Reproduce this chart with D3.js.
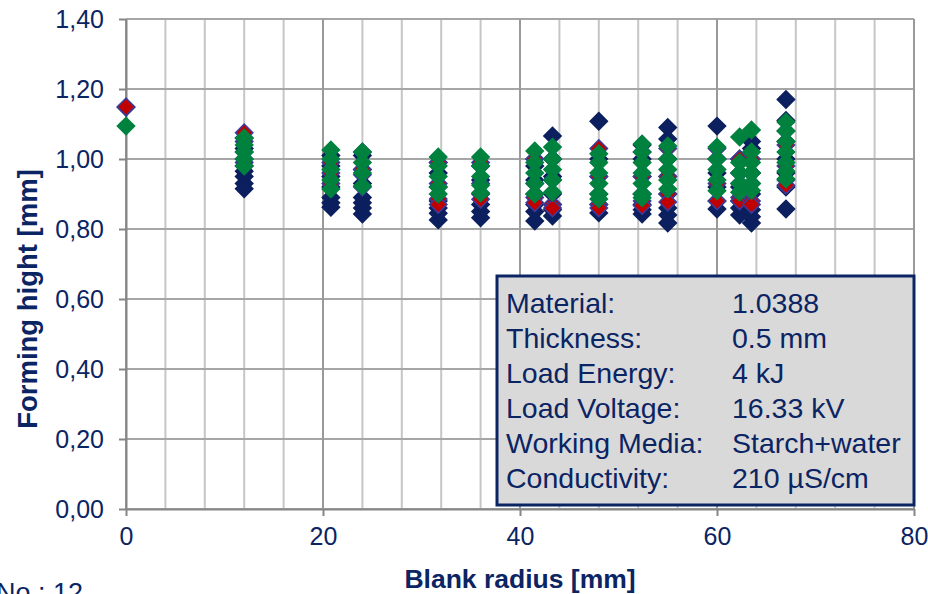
<!DOCTYPE html>
<html>
<head>
<meta charset="utf-8">
<script src="https://cdn.jsdelivr.net/npm/d3@7"></script>
<style>
  body { margin: 0; background: #fff; }
  svg { display: block; font-family: 'Liberation Sans', Arial, sans-serif; }
  .tick text { fill: #0b2463; }
</style>
</head>
<body>
<div id="chart"></div>
<script>
// values: [blank radius, forming hight]
const navyPoints = [
  [0, 1.148],
  [12, 0.915], [12, 0.93], [12, 0.95], [12, 0.965], [12, 0.98], [12, 1.0], [12, 1.03], [12, 1.06],
  [20.8, 0.862], [20.8, 0.875], [20.8, 0.89], [20.8, 0.92], [20.8, 0.95], [20.8, 0.98], [20.8, 1.01],
  [24, 0.843], [24, 0.86], [24, 0.875], [24, 0.89], [24, 0.93], [24, 0.97], [24, 1.01],
  [31.7, 0.826], [31.7, 0.845], [31.7, 0.86], [31.7, 0.88], [31.7, 0.92], [31.7, 0.96], [31.7, 0.99],
  [36, 0.832], [36, 0.85], [36, 0.87], [36, 0.9], [36, 0.94], [36, 0.98],
  [41.5, 0.823], [41.5, 0.85], [41.5, 0.87], [41.5, 0.9], [41.5, 0.94], [41.5, 0.98], [41.5, 1.0],
  [43.3, 0.837], [43.3, 0.855], [43.3, 0.87], [43.3, 0.9], [43.3, 0.95], [43.3, 1.0], [43.3, 1.066],
  [48, 0.846], [48, 0.87], [48, 0.9], [48, 0.95], [48, 1.0], [48, 1.108],
  [52.4, 0.843], [52.4, 0.855], [52.4, 0.87], [52.4, 0.9], [52.4, 0.95], [52.4, 1.0], [52.4, 1.04],
  [55, 0.817], [55, 0.84], [55, 0.86], [55, 0.9], [55, 0.95], [55, 1.0], [55, 1.057], [55, 1.09],
  [60, 0.857], [60, 0.88], [60, 0.92], [60, 0.96], [60, 1.0], [60, 1.094],
  [62.3, 0.84], [62.3, 0.86], [62.3, 0.88], [62.3, 0.92], [62.3, 0.96], [62.3, 1.0],
  [63.5, 0.817], [63.5, 0.835], [63.5, 0.855], [63.5, 0.9], [63.5, 0.96], [63.5, 1.03], [63.5, 1.05],
  [67, 0.857], [67, 0.92], [67, 0.96], [67, 1.0], [67, 1.05], [67, 1.11], [67, 1.17]
];

const redPoints = [
  [0, 1.149],
  [12, 1.075], [12, 1.05], [12, 1.02], [12, 0.99],
  [20.8, 0.99], [20.8, 0.96], [20.8, 0.93],
  [24, 1.02], [24, 0.97], [24, 0.955], [24, 0.92],
  [31.7, 0.99], [31.7, 0.93], [31.7, 0.886], [31.7, 0.87],
  [36, 0.99], [36, 0.93], [36, 0.885],
  [41.5, 1.0], [41.5, 0.93], [41.5, 0.89], [41.5, 0.875],
  [43.3, 1.0], [43.3, 0.94], [43.3, 0.87], [43.3, 0.86],
  [48, 1.03], [48, 0.95], [48, 0.87], [48, 0.86],
  [52.4, 1.02], [52.4, 0.95], [52.4, 0.9], [52.4, 0.88], [52.4, 0.867],
  [55, 1.03], [55, 0.95], [55, 0.9], [55, 0.877],
  [60, 1.03], [60, 1.0], [60, 0.93], [60, 0.88],
  [62.3, 1.0], [62.3, 0.93], [62.3, 0.89], [62.3, 0.88],
  [63.5, 1.0], [63.5, 0.93], [63.5, 0.88], [63.5, 0.87],
  [67, 1.08], [67, 1.04], [67, 0.98], [67, 0.94], [67, 0.925]
];

const greenPoints = [
  [0, 1.094],
  [12, 1.06], [12, 1.04], [12, 1.02], [12, 1.0], [12, 0.98],
  [20.8, 1.026], [20.8, 1.0], [20.8, 0.97], [20.8, 0.94], [20.8, 0.914],
  [24, 1.02], [24, 0.99], [24, 0.96], [24, 0.923],
  [31.7, 1.006], [31.7, 0.98], [31.7, 0.95], [31.7, 0.92], [31.7, 0.9],
  [36, 1.006], [36, 0.98], [36, 0.95], [36, 0.925], [36, 0.903],
  [41.5, 1.023], [41.5, 0.99], [41.5, 0.96], [41.5, 0.93], [41.5, 0.9],
  [43.3, 1.034], [43.3, 1.0], [43.3, 0.97], [43.3, 0.94], [43.3, 0.905],
  [48, 1.015], [48, 0.99], [48, 0.96], [48, 0.93], [48, 0.9], [48, 0.886],
  [52.4, 1.043], [52.4, 1.02], [52.4, 0.99], [52.4, 0.96], [52.4, 0.93], [52.4, 0.9], [52.4, 0.889],
  [55, 1.037], [55, 1.0], [55, 0.97], [55, 0.94], [55, 0.914],
  [60, 1.034], [60, 1.0], [60, 0.97], [60, 0.94], [60, 0.909],
  [62.3, 1.063], [62.3, 0.99], [62.3, 0.96], [62.3, 0.93], [62.3, 0.905],
  [63.5, 1.083], [63.5, 1.02], [63.5, 0.99], [63.5, 0.96], [63.5, 0.93], [63.5, 0.91],
  [67, 1.106], [67, 1.08], [67, 1.05], [67, 1.02], [67, 0.99], [67, 0.965], [67, 0.943]
];

const xTicks = [0, 20, 40, 60, 80];
const xMinorTicks = d3.range(0, 81, 4);
const yTicks = [0, 0.2, 0.4, 0.6, 0.8, 1.0, 1.2, 1.4];

const infoLabels = ['Material:', 'Thickness:', 'Load Energy:', 'Load Voltage:', 'Working Media:', 'Conductivity:'];
const infoValues = ['1.0388', '0.5 mm', '4 kJ', '16.33 kV', 'Starch+water', '210 µS/cm'];

const width = 928,
      height = 594,
      margin = {top: 19, right: 14, bottom: 85, left: 126},
      textColor = '#0b2463';

const svg = d3.select('#chart').append('svg')
  .attr('width', width)
  .attr('height', height);

const x = d3.scaleLinear()
  .domain([0, 80])
  .range([margin.left, width - margin.right]);

const y = d3.scaleLinear()
  .domain([0, 1.4])
  .range([height - margin.bottom, margin.top]);

// grid
const grid = svg.append('g');

grid.selectAll('line.minor')
  .data(xMinorTicks)
  .enter().append('line')
  .attr('class', 'minor')
  .attr('x1', d => x(d)).attr('x2', d => x(d))
  .attr('y1', y(0)).attr('y2', y(1.4))
  .attr('stroke', '#c6c6c6')
  .attr('stroke-width', 2);

grid.selectAll('line.hgrid')
  .data(yTicks)
  .enter().append('line')
  .attr('class', 'hgrid')
  .attr('x1', x(0)).attr('x2', x(80))
  .attr('y1', d => y(d)).attr('y2', d => y(d))
  .attr('stroke', '#a6a6a6')
  .attr('stroke-width', 2);

grid.selectAll('line.major')
  .data(xTicks)
  .enter().append('line')
  .attr('class', 'major')
  .attr('x1', d => x(d)).attr('x2', d => x(d))
  .attr('y1', y(0)).attr('y2', y(1.4))
  .attr('stroke', '#9a9a9a')
  .attr('stroke-width', 2);

// axes
const yAxis = d3.axisLeft(y)
  .tickValues(yTicks)
  .tickFormat(d => d.toFixed(2).replace('.', ','))
  .tickSize(7)
  .tickPadding(15)
  .tickSizeOuter(0);

const xAxis = d3.axisBottom(x)
  .tickValues(xTicks)
  .tickSize(7)
  .tickPadding(11)
  .tickSizeOuter(0);

const gy = svg.append('g')
  .attr('transform', 'translate(' + margin.left + ',0)')
  .call(yAxis);

const gx = svg.append('g')
  .attr('transform', 'translate(0,' + y(0) + ')')
  .call(xAxis);

[gx, gy].forEach(g => {
  g.select('.domain').attr('stroke', '#868686').attr('stroke-width', 2);
  g.selectAll('.tick line').attr('stroke', '#868686').attr('stroke-width', 2);
  g.selectAll('.tick text')
    .attr('font-size', 25)
    .attr('font-family', "'Liberation Sans', Arial, sans-serif");
});

// points
const diamond = d3.symbol().type(d3.symbolSquare).size(150);

const series = [
  {points: navyPoints, fill: '#0c1f5e', stroke: '#0c1f5e'},
  {points: redPoints, fill: '#c00000', stroke: '#3b3b9c'},
  {points: greenPoints, fill: '#00823f', stroke: '#00823f'}
];

series.forEach(s => {
  svg.append('g').selectAll('path')
    .data(s.points)
    .enter().append('path')
    .attr('d', diamond)
    .attr('transform', d => 'translate(' + x(d[0]) + ',' + y(d[1]) + ') rotate(45)')
    .attr('fill', s.fill)
    .attr('stroke', s.stroke)
    .attr('stroke-width', 1.5);
});

// info box
const box = svg.append('g').attr('transform', 'translate(497,276)');

box.append('rect')
  .attr('width', 417)
  .attr('height', 229)
  .attr('fill', '#d9d9d9')
  .attr('stroke', '#0b2463')
  .attr('stroke-width', 3);

box.selectAll('text.label')
  .data(infoLabels)
  .enter().append('text')
  .attr('class', 'label')
  .attr('x', 9)
  .attr('y', (d, i) => 37 + i * 35)
  .attr('font-size', 28.5)
  .attr('fill', textColor)
  .text(d => d);

box.selectAll('text.value')
  .data(infoValues)
  .enter().append('text')
  .attr('class', 'value')
  .attr('x', 235)
  .attr('y', (d, i) => 37 + i * 35)
  .attr('font-size', 28.5)
  .attr('fill', textColor)
  .text(d => d);

// titles
svg.append('text')
  .attr('x', (x(0) + x(80)) / 2)
  .attr('y', 588)
  .attr('text-anchor', 'middle')
  .attr('font-size', 26.5)
  .attr('font-weight', 'bold')
  .attr('fill', textColor)
  .text('Blank radius [mm]');

svg.append('text')
  .attr('transform', 'translate(37,299) rotate(-90)')
  .attr('text-anchor', 'middle')
  .attr('font-size', 27.5)
  .attr('font-weight', 'bold')
  .attr('fill', textColor)
  .text('Forming hight [mm]');

svg.append('text')
  .attr('x', -4)
  .attr('y', 602)
  .attr('font-size', 27)
  .attr('fill', textColor)
  .text('No.: 12');
</script>
</body>
</html>
